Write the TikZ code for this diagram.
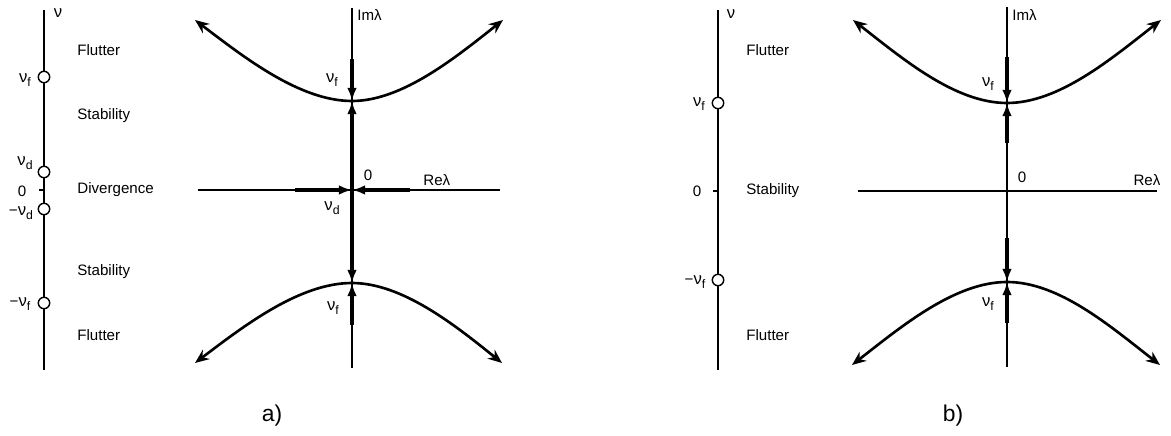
\documentclass[tikz,border=0pt]{standalone}
\usepackage{fontspec}
\setmainfont{Liberation Sans}
\usetikzlibrary{arrows.meta}
\usetikzlibrary{positioning}
\tikzset{
  axis/.style={line width=0.6pt},
  paramaxis/.style={line width=0.9pt},
  root/.style={line width=1.8pt,-{Latex[length=7.5pt,width=5.5pt]}},
  branch/.style={line width=1.5pt,{Stealth[length=8pt,width=6.5pt]}-{Stealth[length=8pt,width=6.5pt]}},
  crit/.style={circle,draw,fill=white,line width=0.8pt,inner sep=0pt,minimum size=6.5pt},
  lbl/.style={font=\fontsize{8.6}{10}\selectfont,inner sep=0pt},
  region/.style={lbl,anchor=west},
  panel/.style={font=\fontsize{13}{15}\selectfont,inner sep=0pt}
}
\newcommand{\gsub}[2]{{\fontsize{9.5}{11}\selectfont #1\raisebox{-0.45ex}{\fontsize{7}{8}\selectfont #2}}}
\newcommand{\nuf}{\gsub{ν}{f}}
\newcommand{\nud}{\gsub{ν}{d}}

\begin{document}
\begin{tikzpicture}[x=0.02cm,y=-0.02cm]
\useasboundingbox (0,0) rectangle (1171,436);
% a) parameter axis
\coordinate (pa1) at (44,10);
\coordinate (pa2) at (44,370);
\coordinate (za) at (44,190);
\draw[paramaxis] (pa1) -- (pa2);
\draw[paramaxis] (za) -- ++(-5,0);
\node[crit] (vfa) at (44,77) {};
\node[crit] (vda) at (44,172) {};
\node[crit] (mvda) at (44,209) {};
\node[crit] (mvfa) at (44,303) {};
\node[lbl] at (58,13) {\fontsize{9.5}{11}\selectfont ν};
\node[lbl] at (25,80) {\nuf};
\node[lbl] at (25,163) {\nud};
\node[lbl] at (22,191) {0};
\node[lbl] at (21,213) {−\nud};
\node[lbl] at (20,304) {−\nuf};
\node[region] at (77,50) {Flutter};
\node[region] at (77,116) {Stability};
\node[region] at (77,190) {Divergence};
\node[region] at (77,272) {Stability};
\node[region] at (77,335) {Flutter};
% a) complex plane
\coordinate (Oa) at (352,190);
\coordinate (ima1) at (352,8);
\coordinate (ima2) at (352,368);
\coordinate (rea1) at (198,190);
\coordinate (rea2) at (500,190);
\draw[axis] (ima2) -- (ima1);
\draw[axis] (rea1) -- (rea2);
\node[lbl,anchor=west] at (357,15) {Imλ};
\node[lbl,anchor=west] at (423,180) {Reλ};
\node[lbl] at (368,175) {0};
\coordinate (uva) at (352,101);
\coordinate (lva) at (352,283);
\draw[branch] (195,20) .. controls (245,58) and (300,101) .. (uva)
  .. controls (402,101) and (455,58) .. (503,20);
\draw[branch] (195,363) .. controls (245,325) and (300,283) .. (lva)
  .. controls (402,283) and (455,325) .. (502,363);
\draw[root] (352,59) -- (uva);
\draw[root] (Oa) -- (uva);
\draw[root] (Oa) -- (lva);
\draw[root] (352,325) -- (lva);
\draw[root] (295,190) -- (Oa);
\draw[root] (410,190) -- (Oa);
\node[lbl] at (332,80) {\nuf};
\node[lbl] at (332,208) {\nud};
\node[lbl] at (333,308) {\nuf};
\node[panel] (capa) at (272,416) {a)};
% b) parameter axis
\coordinate (pb1) at (718,10);
\coordinate (pb2) at (718,370);
\coordinate (zb) at (718,191);
\draw[paramaxis] (pb1) -- (pb2);
\draw[paramaxis] (zb) -- ++(-5,0);
\node[crit] (vfb) at (718,103) {};
\node[crit] (mvfb) at (718,280) {};
\node[lbl] at (731,14) {\fontsize{9.5}{11}\selectfont ν};
\node[lbl] at (699,104) {\nuf};
\node[lbl] at (697,191) {0};
\node[lbl] at (695,282) {−\nuf};
\node[region] at (746,50) {Flutter};
\node[region] at (746,191) {Stability};
\node[region] at (746,335) {Flutter};
% b) complex plane
\coordinate (Ob) at (1007,191);
\coordinate (imb1) at (1007,7);
\coordinate (imb2) at (1007,367);
\coordinate (reb1) at (858,191);
\coordinate (reb2) at (1157,191);
\draw[axis] (imb2) -- (imb1);
\draw[axis] (reb1) -- (reb2);
\node[lbl,anchor=west] at (1012,15) {Imλ};
\node[lbl] at (1147,180) {Reλ};
\node[lbl] at (1022,177) {0};
\coordinate (uvb) at (1007,103);
\coordinate (lvb) at (1007,282);
\draw[branch] (853,20) .. controls (903,59) and (955,103) .. (uvb)
  .. controls (1059,103) and (1111,59) .. (1161,20);
\draw[branch] (852,365) .. controls (902,326) and (955,282) .. (lvb)
  .. controls (1059,282) and (1110,326) .. (1160,365);
\draw[root] (1007,57) -- (uvb);
\draw[root] (1007,143) -- (uvb);
\draw[root] (1007,238) -- (lvb);
\draw[root] (1007,323) -- (lvb);
\node[lbl] at (988,84) {\nuf};
\node[lbl] at (988,304) {\nuf};
\node[panel] (capb) at (953,416) {b)};
\end{tikzpicture}
\end{document}
